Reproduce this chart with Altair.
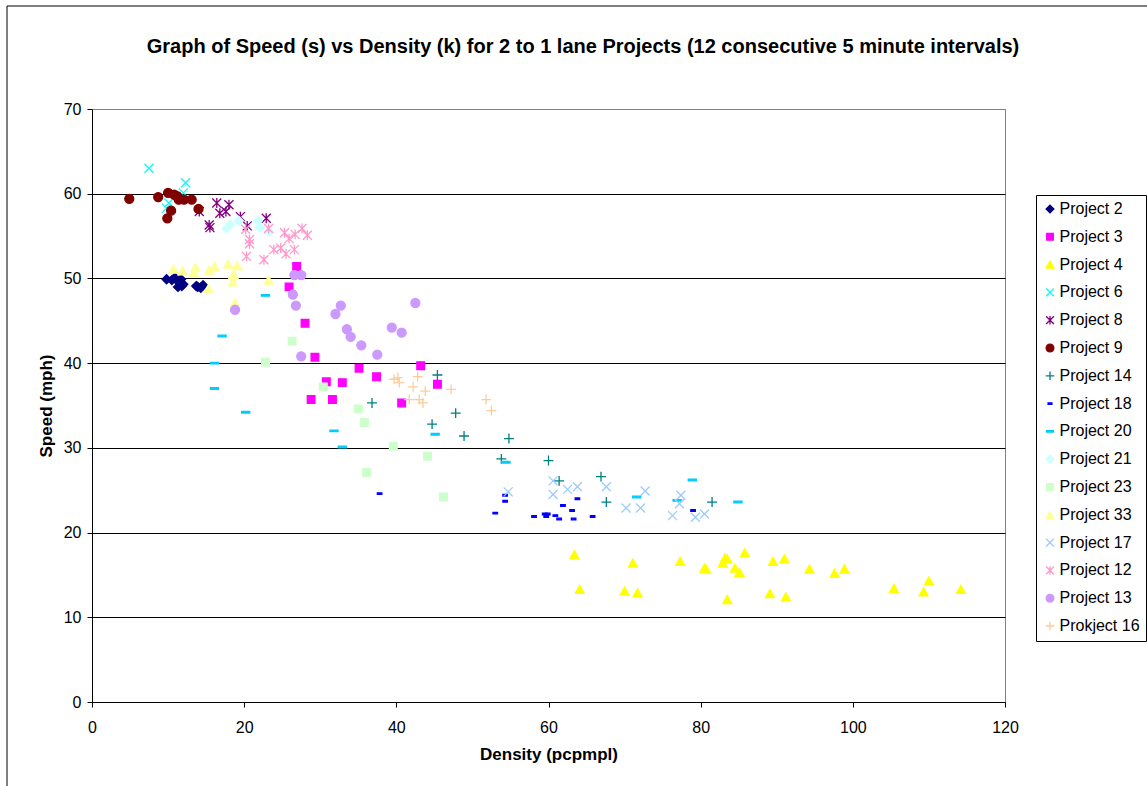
import altair as alt
import pandas as pd

projects = ["Project 2", "Project 3", "Project 4", "Project 6", "Project 8", "Project 9",
            "Project 14", "Project 18", "Project 20", "Project 21", "Project 23", "Project 33",
            "Project 17", "Project 12", "Project 13", "Prokject 16"]
colors = ["#000080", "#FF00FF", "#FFFF00", "#00FFFF", "#800080", "#800000",
          "#008080", "#0000FF", "#00CCFF", "#CCFFFF", "#CCFFCC", "#FFFF99",
          "#99CCFF", "#FF99CC", "#CC99FF", "#FFCC99"]
DIAMOND = "M0,-1L1,0L0,1L-1,0Z"
SQUARE = "M-0.85,-0.85L0.85,-0.85L0.85,0.85L-0.85,0.85Z"
TRIANGLE = "M0,-0.9L1,0.9L-1,0.9Z"
XMARK = "M-1,-1L1,1M-1,1L1,-1"
ASTER = "M-1,-1L1,1M-1,1L1,-1M0,-1.1L0,1.1"
PLUS = "M-1.1,0L1.1,0M0,-1.1L0,1.1"
SHORTDASH = "M-0.5,-0.18L0.5,-0.18L0.5,0.18L-0.5,0.18Z"
LONGDASH = "M-0.9,-0.18L0.9,-0.18L0.9,0.18L-0.9,0.18Z"
shapes = [DIAMOND, SQUARE, TRIANGLE, XMARK, ASTER, "circle",
          PLUS, SHORTDASH, LONGDASH, DIAMOND, SQUARE, TRIANGLE,
          XMARK, ASTER, "circle", PLUS]

title_text = "Graph of Speed (s) vs Density (k) for 2 to 1 lane Projects (12 consecutive 5 minute intervals)"

p2_k = [9.8, 10.5, 10.9, 11.0, 11.7, 11.3, 11.8, 12.0, 13.7, 13.9, 14.3, 14.6]
p2_s = [49.9, 49.8, 50.1, 49.9, 49.9, 49.0, 49.1, 49.3, 49.1, 49.0, 48.9, 49.2]
p3_k = [26.9, 25.9, 28.0, 29.3, 30.8, 32.9, 28.8, 31.6, 35.1, 37.4, 43.2, 45.4, 40.7]
p3_s = [51.4, 49.0, 44.7, 40.7, 37.8, 37.7, 35.7, 35.7, 39.4, 38.4, 39.7, 37.5, 35.3]
p4_k = [63.4, 64.1, 71.1, 70.0, 71.7, 77.3, 80.7, 80.5, 82.9, 83.2, 83.5, 84.5, 85.1,
        85.8, 83.5, 89.1, 89.5, 91.0, 91.2, 94.3, 97.6, 98.9, 105.4, 109.3, 110.0, 114.2]
p4_s = [17.4, 13.3, 16.4, 13.1, 12.9, 16.6, 15.7, 15.8, 16.4, 17.0, 16.9, 15.8, 15.3,
        17.6, 12.1, 12.8, 16.6, 16.9, 12.4, 15.7, 15.2, 15.7, 13.4, 13.0, 14.3, 13.3]
p6_k = [7.5, 12.3, 12.0, 10.1, 9.8]
p6_s = [63.0, 61.3, 60.1, 58.9, 58.3]
p8_k = [14.1, 15.4, 15.5, 16.4, 16.8, 17.6, 18.0, 19.5, 20.4, 22.9]
p8_s = [57.9, 56.3, 56.0, 58.9, 57.7, 57.9, 58.7, 57.3, 56.2, 57.1]
p9_k = [4.9, 8.7, 10.0, 10.8, 11.2, 11.4, 12.1, 13.1, 10.4, 9.9, 14.0]
p9_s = [59.4, 59.6, 60.1, 59.9, 59.7, 59.3, 59.3, 59.3, 58.0, 57.1, 58.2]
p14_k = [36.8, 45.4, 47.8, 44.7, 48.9, 54.8, 53.8, 60.0, 61.4, 66.9, 67.6, 81.5]
p14_s = [35.3, 38.6, 34.1, 32.8, 31.4, 31.1, 28.7, 28.5, 26.1, 26.6, 23.6, 23.6]
p18_k = [37.8, 54.3, 54.3, 53.0, 58.1, 59.5, 59.9, 59.7, 60.9, 61.4, 61.9, 63.1, 63.3, 63.8, 65.8, 79.0]
p18_s = [24.6, 24.4, 23.7, 22.3, 21.9, 22.2, 22.2, 21.9, 22.0, 21.6, 23.2, 22.6, 21.6, 24.0, 21.9, 22.6]
p20_k = [22.8, 17.1, 16.1, 16.1, 20.2, 31.8, 32.9, 45.1, 54.4, 71.6, 78.9, 76.9, 84.9]
p20_s = [48.0, 43.2, 40.0, 37.0, 34.2, 32.0, 30.1, 31.6, 28.3, 24.2, 26.2, 23.8, 23.6]
p21_k = [17.7, 18.2, 19.3, 21.8, 22.1, 23.3]
p21_s = [55.9, 56.4, 56.8, 56.8, 56.0, 55.5]
p23_k = [26.3, 22.8, 30.4, 35.0, 35.8, 39.6, 44.1, 36.1, 46.2]
p23_s = [42.6, 40.1, 37.2, 34.6, 33.0, 30.2, 29.0, 27.1, 24.2]
p33_k = [10.7, 11.9, 13.4, 13.6, 15.4, 16.1, 17.9, 19.1, 18.6, 18.5, 15.3, 23.2, 18.8]
p33_s = [51.1, 50.9, 50.7, 51.3, 51.0, 51.4, 51.7, 51.5, 50.5, 49.6, 48.8, 49.8, 47.1]
p17_k = [54.7, 60.6, 60.6, 62.5, 63.8, 67.6, 70.2, 72.1, 72.7, 76.3, 77.2, 77.4, 79.3, 80.5]
p17_s = [24.8, 26.1, 24.5, 25.1, 25.4, 25.4, 22.9, 22.9, 24.9, 22.0, 23.4, 24.4, 21.8, 22.2]
p12_k = [20.2, 20.7, 20.7, 20.3, 22.6, 23.9, 24.8, 25.5, 26.6, 25.3, 25.9, 26.7, 27.6, 28.3, 23.2]
p12_s = [55.8, 54.6, 54.1, 52.6, 52.2, 53.4, 53.6, 52.9, 53.4, 55.4, 54.7, 55.2, 55.9, 55.1, 55.9]
p13_k = [18.8, 26.6, 27.5, 26.4, 26.8, 27.5, 32.0, 32.7, 33.5, 34.0, 35.4, 37.5, 39.4, 40.7, 42.5]
p13_s = [46.3, 50.4, 50.4, 48.1, 46.8, 40.8, 45.8, 46.8, 44.0, 43.1, 42.1, 41.0, 44.2, 43.6, 47.1]
p16_k = [39.7, 40.2, 40.4, 42.8, 42.2, 43.8, 41.7, 43.0, 43.5, 47.2, 51.8, 52.5]
p16_s = [38.1, 38.3, 37.7, 38.4, 37.2, 36.7, 35.7, 35.7, 35.3, 36.9, 35.7, 34.4]

series = [(p2_k, p2_s), (p3_k, p3_s), (p4_k, p4_s), (p6_k, p6_s), (p8_k, p8_s), (p9_k, p9_s),
          (p14_k, p14_s), (p18_k, p18_s), (p20_k, p20_s), (p21_k, p21_s), (p23_k, p23_s),
          (p33_k, p33_s), (p17_k, p17_s), (p12_k, p12_s), (p13_k, p13_s), (p16_k, p16_s)]

rows = []
for name, (ks, ss) in zip(projects, series):
    for k, s in zip(ks, ss):
        rows.append({"project": name, "density": k, "speed": s, "idx": len(rows)})
df = pd.DataFrame(rows)

FONT = "Liberation Sans"
legend = alt.Legend(orient="none", legendX=944, legendY=86, title=None)

points = alt.Chart(df).mark_point(filled=True, opacity=1, size=81, strokeWidth=1.3).encode(
    x=alt.X("density:Q", title="Density (pcpmpl)",
            scale=alt.Scale(domain=[0, 120], nice=False, zero=True),
            axis=alt.Axis(values=[0, 20, 40, 60, 80, 100, 120], grid=False, tickSize=5,
                          labelPadding=12, titlePadding=11, labelFlush=False)),
    y=alt.Y("speed:Q", title="Speed (mph)",
            scale=alt.Scale(domain=[0, 70], nice=False, zero=True),
            axis=alt.Axis(values=[0, 10, 20, 30, 40, 50, 60, 70], grid=True, tickSize=5,
                          labelPadding=6, titlePadding=8, labelFlush=False,
                          gridColor=alt.condition("datum.value == 70", alt.value("#808080"), alt.value("#000000")))),
    fill=alt.Fill("project:N", scale=alt.Scale(domain=projects, range=colors), legend=legend),
    stroke=alt.Stroke("project:N", scale=alt.Scale(domain=projects, range=colors), legend=legend),
    shape=alt.Shape("project:N", scale=alt.Scale(domain=projects, range=shapes), legend=legend),
    order=alt.Order("idx:Q"),
)

frame = alt.Chart(pd.DataFrame({"a": [0]})).mark_rect(
    fill="transparent", stroke="#000000", strokeWidth=1
).encode(x=alt.value(-85), x2=alt.value(1080), y=alt.value(-103), y2=alt.value(700))

title = alt.Chart(pd.DataFrame({"t": [title_text]})).mark_text(
    font=FONT, fontSize=20, fontWeight="bold", color="#000000", align="center", baseline="middle"
).encode(text="t:N", x=alt.value(491), y=alt.value(-62))

chart = alt.layer(frame, points, title).properties(
    width=913, height=593,
    autosize=alt.AutoSizeParams(type="none"),
    padding={"left": 92, "top": 109, "right": 142, "bottom": 84},
    background="white",
).configure_view(
    stroke="#808080", strokeWidth=1
).configure_axis(
    labelFont=FONT, titleFont=FONT, labelFontSize=16, titleFontSize=17,
    labelColor="#000000", titleColor="#000000", titleFontWeight="bold",
    domainColor="#000000", tickColor="#000000", domainWidth=1, tickWidth=1, gridWidth=1,
).configure_legend(
    labelFont=FONT, labelFontSize=16, labelColor="#000000",
    strokeColor="#000000", fillColor="white", padding=6,
    symbolSize=60, symbolStrokeWidth=1.3, rowPadding=11.8, labelOffset=1.5,
    symbolOpacity=1,
)

chart.save("out.html", embed_options={"renderer": "svg", "actions": False})
